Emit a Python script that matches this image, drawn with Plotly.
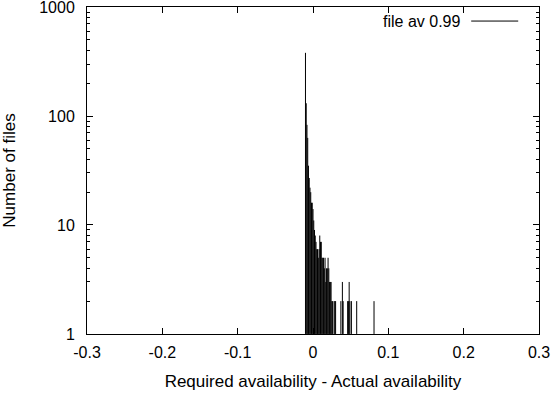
import plotly.graph_objects as go

# Histogram data: bin position (Required - Actual availability) and number of files
diff = [-0.010, -0.009, -0.008, -0.007, -0.006, -0.005, -0.004, -0.003, -0.002, -0.001,
        0.000, 0.001, 0.002, 0.003, 0.004, 0.005, 0.006, 0.007, 0.008, 0.009,
        0.010, 0.011, 0.012, 0.013, 0.014, 0.015, 0.016, 0.017, 0.018, 0.019,
        0.020, 0.021, 0.022, 0.023, 0.024, 0.025, 0.026, 0.027, 0.028, 0.029,
        0.030, 0.031, 0.033, 0.035, 0.037, 0.039, 0.040, 0.042, 0.044, 0.046,
        0.047, 0.048, 0.049, 0.051, 0.053, 0.055, 0.058, 0.081]
files = [380, 131, 83, 63, 35, 27, 22, 20, 16, 16,
         14, 11, 9, 8, 7, 6, 6, 5, 6, 8,
         7, 7, 5, 5, 5, 4, 5, 3, 4, 4,
         5, 4, 3, 3, 3, 2, 2, 1, 2, 2,
         2, 1, 1, 1, 2, 3, 2, 1, 1, 2,
         2, 3, 2, 2, 1, 1, 2, 2]

x_ticks = [-0.3, -0.2, -0.1, 0, 0.1, 0.2, 0.3]
x_tick_text = ["-0.3", "-0.2", "-0.1", "0", "0.1", "0.2", "0.3"]
y_ticks = [1, 10, 100, 1000]
y_tick_text = ["1", "10", "100", "1000"]
y_minor = [m * d for d in (1, 10, 100) for m in range(2, 10)]

# impulses: vertical segments from the baseline (1) to each count
xs, ys = [], []
for xv, cv in zip(diff, files):
    xs += [xv, xv, None]
    ys += [1, cv, None]

FONT = "Liberation Sans, Arial, sans-serif"
FS = 17
TFS = 16

fig = go.Figure()
fig.add_trace(go.Scatter(x=xs, y=ys, mode="lines", line=dict(color="black", width=1),
                         name="file av 0.99", showlegend=False, hoverinfo="skip"))

fig.update_layout(
    width=551, height=394,
    margin=dict(l=87, r=12, t=7, b=60, autoexpand=False),
    paper_bgcolor="white", plot_bgcolor="white",
    font=dict(family=FONT, size=FS, color="black"),
    showlegend=False,
)
fig.update_xaxes(
    range=[-0.3, 0.3], tickvals=x_ticks, ticktext=x_tick_text,
    ticks="inside", ticklen=6, tickcolor="black", tickwidth=1,
    showline=True, linecolor="black", linewidth=1, mirror="ticks",
    showgrid=False, zeroline=False, automargin=False,
    title=dict(text="Required availability - Actual availability", standoff=14,
               font=dict(size=FS)),
    tickfont=dict(size=TFS), ticklabelstandoff=4, ticklabeloverflow="allow",
)
fig.update_yaxes(
    type="log", range=[-0.0005, 3.0005], tickvals=y_ticks, ticktext=y_tick_text,
    ticks="inside", ticklen=6, tickcolor="black", tickwidth=1,
    minor=dict(tickvals=y_minor, ticks="inside", ticklen=3, tickcolor="black", tickwidth=1),
    showline=True, linecolor="black", linewidth=1, mirror="ticks",
    showgrid=False, zeroline=False, automargin=False,
    title=dict(text="Number of files", standoff=21, font=dict(size=FS)),
    tickfont=dict(size=TFS), ticklabelstandoff=8, ticklabeloverflow="allow",
)

# gnuplot-style key: text left of the line sample
fig.add_annotation(xref="paper", yref="paper", x=0.829, y=0.957, text="file av 0.99",
                   showarrow=False, xanchor="right", yanchor="middle",
                   font=dict(family=FONT, size=TFS, color="black"))
fig.add_shape(type="line", xref="paper", yref="paper", x0=0.850, x1=0.954, y0=0.957, y1=0.957,
              line=dict(color="black", width=1))

fig.write_html("out.html")
